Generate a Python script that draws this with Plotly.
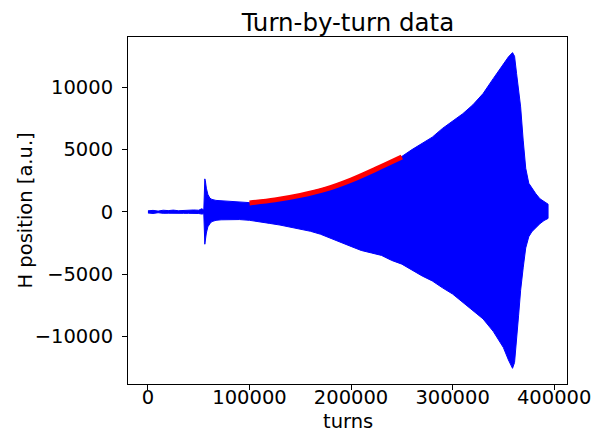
import plotly.graph_objects as go

# Envelope of the turn-by-turn signal
turns = [0, 5000, 10000, 15000, 20000, 25000, 30000, 35000, 40000, 45000, 50000, 53000, 55000,
         56000, 56500, 57500, 59000, 61000, 63000, 67000, 72000, 80000, 90000,
         100000, 110000, 120000, 130000, 140000, 150000, 160000, 170000, 180000, 190000,
         200000, 210000, 220000, 230000, 240000, 250000, 260000, 270000, 280000, 290000,
         300000, 310000, 320000, 330000, 340000, 345000, 350000, 355000,
         359000, 361000, 363000, 365000, 367000, 369500, 372000, 375000, 378000, 382000,
         386000, 390000, 394000]
upper = [80, 120, 60, 130, 100, 140, 90, 130, 110, 150, 130, 250, 150,
         2650, 2500, 1900, 1400, 1100, 1000, 920, 900, 860, 780,
         740, 830, 950, 1080, 1250, 1400, 1600, 1800, 2050, 2350,
         2650, 2950, 3300, 3650, 4050, 4450, 5000, 5500, 6000, 6700,
         7300, 7880, 8600, 9500, 10700, 11300, 11900, 12450,
         12790, 12500, 11100, 9900, 8430, 5760, 3500, 2300, 1900, 1450,
         1050, 800, 620]
lower = [-90, -130, -70, -120, -110, -140, -100, -120, -120, -150, -130, -180, -150,
         -2600, -2300, -1700, -1200, -950, -780, -680, -640, -610, -620,
         -680, -800, -930, -1060, -1200, -1380, -1560, -1800, -2100, -2450,
         -2780, -3100, -3300, -3500, -3900, -4200, -4650, -5150, -5550, -6100,
         -6600, -7300, -7950, -8600, -9600, -10200, -10900, -11900,
         -12570, -12100, -10600, -8300, -6300, -4500, -2900, -2000, -1600, -1250,
         -950, -700, -530]

# Fitted growth curve (red)
fit_turns = [100000, 125000, 150000, 175000, 200000, 225000, 250000]
fit_vals = [720, 960, 1320, 1820, 2550, 3450, 4400]

font = "DejaVu Sans"
fs = 19.5
W, H = 601, 432
ML, MR, MT, MB = 128, 34, 37, 48
plot_w = W - ML - MR
plot_h = H - MT - MB

fig = go.Figure()
fig.add_trace(go.Scatter(
    x=turns + turns[::-1],
    y=upper + lower[::-1],
    fill="toself", fillcolor="#0000ff",
    line=dict(color="#0000ff", width=1),
    mode="lines", showlegend=False, hoverinfo="skip"))
fig.add_trace(go.Scatter(
    x=fit_turns, y=fit_vals, mode="lines",
    line=dict(color="#ff0000", width=5, shape="spline"),
    showlegend=False))

fig.update_layout(
    width=W, height=H,
    margin=dict(l=ML, r=MR, t=MT, b=MB, autoexpand=False),
    paper_bgcolor="white", plot_bgcolor="white",
    font=dict(family=font, size=fs, color="black"),
    title=dict(text="Turn-by-turn data", x=347.9/W, xanchor="center",
               y=1 - 22/H, yanchor="middle", font=dict(size=24.5, family=font)),
    annotations=[
        dict(text="turns", xref="paper", yref="paper", x=0.5,
             y=(H - MB - 421) / plot_h,
             xanchor="center", yanchor="middle", showarrow=False, font=dict(size=fs)),
        dict(text="H position [a.u.]", xref="paper", yref="paper",
             x=-(ML - 25) / plot_w, y=0.5, textangle=-90,
             xanchor="center", yanchor="middle", showarrow=False, font=dict(size=fs)),
    ],
)

fig.update_xaxes(
    range=[-19650, 412650], tickmode="array",
    tickvals=[0, 100000, 200000, 300000, 400000],
    ticktext=["0", "100000", "200000", "300000", "400000"],
    ticks="outside", ticklen=5, tickwidth=1, tickcolor="black",
    showline=True, linecolor="black", linewidth=1, mirror=True,
    showgrid=False, zeroline=False, ticklabelstandoff=-9, automargin=False)
fig.update_yaxes(
    range=[-13828, 14045], tickmode="array",
    tickvals=[-10000, -5000, 0, 5000, 10000],
    ticktext=["\u221210000", "\u22125000", "0", "5000", "10000"],
    ticks="outside", ticklen=5, tickwidth=1, tickcolor="black",
    showline=True, linecolor="black", linewidth=1, mirror=True,
    showgrid=False, zeroline=False, ticklabelstandoff=5, automargin=False)

fig.write_html("out.html")
